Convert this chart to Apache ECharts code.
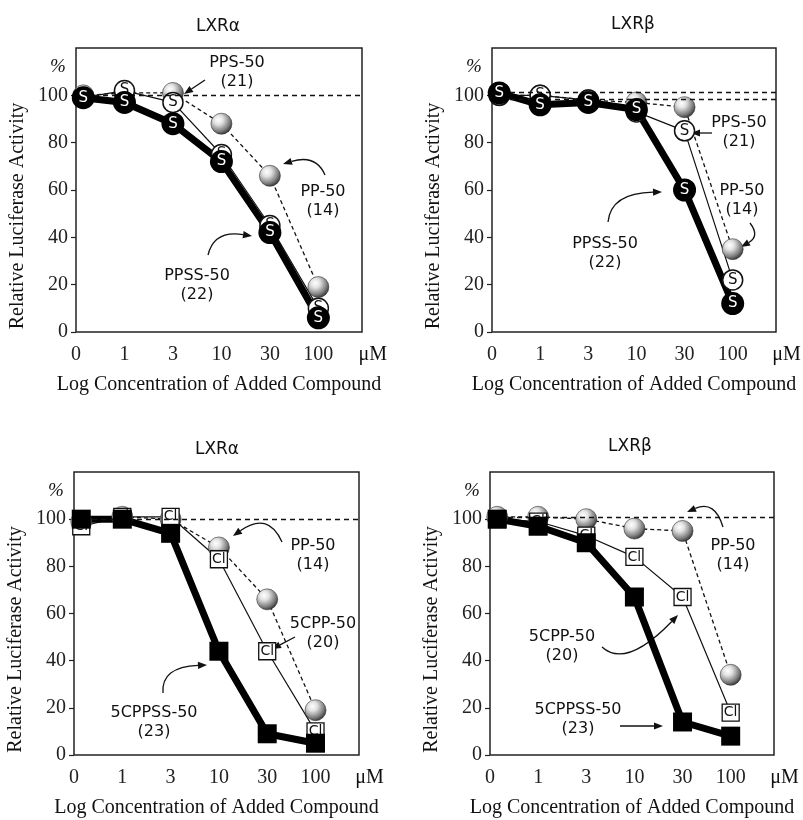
<!DOCTYPE html>
<html><head><meta charset="utf-8">
<script src="https://cdn.jsdelivr.net/npm/echarts@6/dist/echarts.min.js"></script>
<style>html,body{margin:0;padding:0;background:#fff}#c{width:803px;height:820px}</style>
</head><body><div id="c"></div><script>
// ---- tick labels / categories ----
const concLabels = ['0','1','3','10','30','100'];
const xIdx = [0.15, 1, 2, 3, 4, 5];          // axis position of each concentration
const yTicks = [0, 20, 40, 60, 80, 100];

// ---- Panel A: LXRα (PP / PPS / PPSS) ----
const a_PP   = [100, 101, 101, 88, 66, 19];
const a_PPS  = [99, 102, 97, 75, 45, 10];
const a_PPSS = [99, 97, 88, 72, 42, 6];
// ---- Panel B: LXRβ (PP / PPS / PPSS) ----
const b_PP   = [100, 100, 98, 97, 95, 35];
const b_PPS  = [100, 100, 98, 93, 85, 22];
const b_PPSS = [101, 96, 97, 94, 60, 12];
// ---- Panel C: LXRα (PP / 5CPP / 5CPPSS) ----
const c_PP     = [99, 101, 100, 88, 66, 19];
const c_5CPP   = [97, 101, 101, 83, 44, 10];
const c_5CPPSS = [100, 100, 94, 44, 9, 5];
// ---- Panel D: LXRβ (PP / 5CPP / 5CPPSS) ----
const d_PP     = [101, 101, 100, 96, 95, 34];
const d_5CPP   = [100, 99, 93, 84, 67, 18];
const d_5CPPSS = [100, 97, 90, 67, 14, 8];

const grids = [
  {left:76,  top:48,  width:286, height:284},
  {left:492, top:48,  width:284, height:284},
  {left:74,  top:472, width:285, height:283},
  {left:490, top:472, width:284, height:283}
];
const YMAX = 120, XMAX = 5.9;

const panels = [
  {title:'LXRα', refs:[100], series:[
    {name:'PP-50', data:a_PP, kind:'sphere'},
    {name:'PPS-50', data:a_PPS, kind:'whiteS'},
    {name:'PPSS-50', data:a_PPSS, kind:'blackS'}]},
  {title:'LXRβ', refs:[101.5, 98.5], series:[
    {name:'PP-50', data:b_PP, kind:'sphere'},
    {name:'PPS-50', data:b_PPS, kind:'whiteS'},
    {name:'PPSS-50', data:b_PPSS, kind:'blackS'}]},
  {title:'LXRα', refs:[100], series:[
    {name:'PP-50', data:c_PP, kind:'sphere'},
    {name:'5CPP-50', data:c_5CPP, kind:'whiteCl'},
    {name:'5CPPSS-50', data:c_5CPPSS, kind:'blackSq'}]},
  {title:'LXRβ', refs:[100.7], series:[
    {name:'PP-50', data:d_PP, kind:'sphere'},
    {name:'5CPP-50', data:d_5CPP, kind:'whiteCl'},
    {name:'5CPPSS-50', data:d_5CPPSS, kind:'blackSq'}]}
];

const SANS = '"DejaVu Sans", Verdana, sans-serif';
const SERIF = '"Liberation Serif", "Times New Roman", serif';

const sphereFill = new echarts.graphic.RadialGradient(0.36, 0.32, 0.72, [
  {offset:0, color:'#ffffff'}, {offset:0.3, color:'#e2e2e2'},
  {offset:0.75, color:'#7a7a7a'}, {offset:1, color:'#2e2e2e'}]);

const styles = {
  sphere: {line:{color:'#111', width:1.3, type:[4,3]}, symbol:'circle', size:21,
    item:{color:sphereFill, borderColor:'#333', borderWidth:0.6, opacity:1}, label:{show:false}},
  whiteS: {line:{color:'#111', width:1.2, type:'solid'}, symbol:'circle', size:20,
    item:{color:'#fff', borderColor:'#111', borderWidth:1.5, opacity:1},
    label:{show:true, position:'inside', formatter:'S', color:'#111', fontSize:15, fontFamily:SANS}},
  blackS: {line:{color:'#000', width:7, type:'solid', join:'round'}, symbol:'circle', size:23,
    item:{color:'#000', opacity:1},
    label:{show:true, position:'inside', formatter:'S', color:'#fff', fontSize:15, fontFamily:SANS}},
  whiteCl: {line:{color:'#111', width:1.2, type:'solid'}, symbol:'rect', size:17,
    item:{color:'#fff', borderColor:'#111', borderWidth:1.3, opacity:1},
    label:{show:true, position:'inside', formatter:'Cl', color:'#111', fontSize:14, fontFamily:SANS}},
  blackSq: {line:{color:'#000', width:7, type:'solid', join:'round'}, symbol:'rect', size:19,
    item:{color:'#000', opacity:1}, label:{show:false}}
};

const series = [];
panels.forEach((p, gi) => {
  p.series.forEach((s, si) => {
    const st = styles[s.kind];
    const line = {type:'line', name:s.name+gi, xAxisIndex:gi, yAxisIndex:gi,
      data:xIdx.map((x,i)=>[x, s.data[i]]), symbol:'none', showSymbol:false,
      lineStyle:st.line, z:2, silent:true, animation:false};
    if (si === 0) {
      line.markLine = {silent:true, symbol:'none', animation:false, label:{show:false},
        lineStyle:{type:[5,4], width:1.4, color:'#111'},
        data:p.refs.map(v => ({yAxis:v}))};
    }
    series.push(line);
  });
  p.series.forEach((s, si) => {
    const st = styles[s.kind];
    series.push({type:'scatter', name:s.name+'m'+gi, xAxisIndex:gi, yAxisIndex:gi,
      data:xIdx.map((x,i)=>[x, s.data[i]]), symbol:st.symbol, symbolSize:st.size,
      itemStyle:st.item, label:st.label, z:3+si, silent:true, animation:false});
  });
});

const xAxes = grids.map((g, gi) => ({gridIndex:gi, type:'value', min:0, max:XMAX, interval:1,
  axisLine:{show:false}, axisTick:{show:false}, splitLine:{show:false},
  axisLabel:{customValues:[0,1,2,3,4,5], margin:13, color:'#222', fontSize:20, fontFamily:SERIF,
    formatter:v => (concLabels[Math.round(v)] !== undefined && Math.abs(v-Math.round(v))<1e-6) ? concLabels[Math.round(v)] : ''}}));
const yAxes = grids.map((g, gi) => ({gridIndex:gi, type:'value', min:0, max:YMAX, interval:20,
  axisLine:{show:false}, splitLine:{show:false},
  axisTick:{show:true, inside:false, length:5, customValues:yTicks, lineStyle:{color:'#222', width:1.2}},
  axisLabel:{customValues:yTicks, margin:8, color:'#222', fontSize:20, fontFamily:SERIF,
    formatter:v => v >= YMAX ? '' : String(v)}}));

// ---- text / annotation graphics ----
const gfx = [];
function px(gi, xv, yv){ const g = grids[gi];
  return [g.left + g.width * xv / XMAX, g.top + g.height * (1 - yv / YMAX)]; }
function text(x, y, t, font, opts={}) {
  gfx.push(Object.assign({type:'text', x, y, silent:true, style:{text:t, font, fill:'#111',
    align:'center', verticalAlign:'middle', lineHeight:opts.lh || 19}}, opts.rot ? {rotation:opts.rot} : {}));
}
function head(x0,y0,x1,y1){ const dx=x1-x0, dy=y1-y0, L=Math.hypot(dx,dy)||1; const ux=dx/L, uy=dy/L;
  const len=9, w=3.6; const bx=x1-ux*len, by=y1-uy*len;
  gfx.push({type:'polygon', silent:true, shape:{points:[[x1,y1],[bx-uy*w, by+ux*w],[bx+uy*w, by-ux*w]]}, style:{fill:'#111'}});
  return [bx, by]; }
function arrowStraight(t, h){ const b = head(t[0],t[1],h[0],h[1]);
  gfx.push({type:'line', silent:true, shape:{x1:t[0],y1:t[1],x2:b[0],y2:b[1]}, style:{stroke:'#111', lineWidth:1.3}}); }
function arrowCurve(t, c, h){ const b = head(c[0],c[1],h[0],h[1]);
  gfx.push({type:'bezierCurve', silent:true, shape:{x1:t[0],y1:t[1],x2:b[0],y2:b[1],cpx1:c[0],cpy1:c[1]}, style:{stroke:'#111', lineWidth:1.3, fill:null}}); }

const titleFont = '17px ' + SANS, annFont = '16px ' + SANS, serifFont = '20px ' + SERIF;
const titlePos = [[218,27],[633,25],[217,450],[630,447]];
panels.forEach((p, gi) => {
  const g = grids[gi];
  text(titlePos[gi][0], titlePos[gi][1], p.title, titleFont);
  text(g.left + g.width/2, g.top + g.height + 53, 'Log Concentration of Added Compound', serifFont);
  const yc = px(gi, 0, 49)[1];
  text(g.left - 58, yc, 'Relative Luciferase Activity', serifFont, {rot:Math.PI/2});
  const pc = px(gi, 0, 112);
  text(g.left - 18, pc[1], '%', 'italic 19px ' + SERIF);
  const mu = px(gi, 6.12, 0);
  text(mu[0], g.top + g.height + 23, 'μM', serifFont);
});

// annotations
text(237, 72.5, 'PPS-50\n(21)', annFont);  arrowStraight([205,80],[184,94]);
text(323, 201.5, 'PP-50\n(14)', annFont);  arrowCurve([325,175],[316,154],[283,164]);
text(197, 285.5, 'PPSS-50\n(22)', annFont); arrowCurve([208,255],[214,230],[252,236]);

text(739, 132.5, 'PPS-50\n(21)', annFont); arrowStraight([712,133],[691,133]);
text(742, 200, 'PP-50\n(14)', annFont);    arrowCurve([750,223],[760,236],[741,247]);
text(605, 253, 'PPSS-50\n(22)', annFont);  arrowCurve([608,222],[611,193],[662,192]);

text(313, 555, 'PP-50\n(14)', annFont);    arrowCurve([282,542],[268,511],[233,536]);
text(323, 633, '5CPP-50\n(20)', annFont);  arrowStraight([295,637],[272,649]);
text(154, 722.5, '5CPPSS-50\n(23)', annFont); arrowCurve([163,693],[161,667],[207,665]);

text(733, 555, 'PP-50\n(14)', annFont);    arrowCurve([723,527],[715,500],[687,512]);
text(562, 646, '5CPP-50\n(20)', annFont);  arrowCurve([602,647],[626,669],[678,615]);
text(578, 719, '5CPPSS-50\n(23)', annFont); arrowStraight([620,726],[663,726]);

const chart = echarts.init(document.getElementById('c'));
chart.setOption({
  backgroundColor:'#fff', animation:false,
  grid: grids.map(g => Object.assign({show:true, borderColor:'#222', borderWidth:1.5, backgroundColor:'transparent', containLabel:false}, g)),
  xAxis: xAxes, yAxis: yAxes, series, graphic: gfx
});
</script></body></html>
